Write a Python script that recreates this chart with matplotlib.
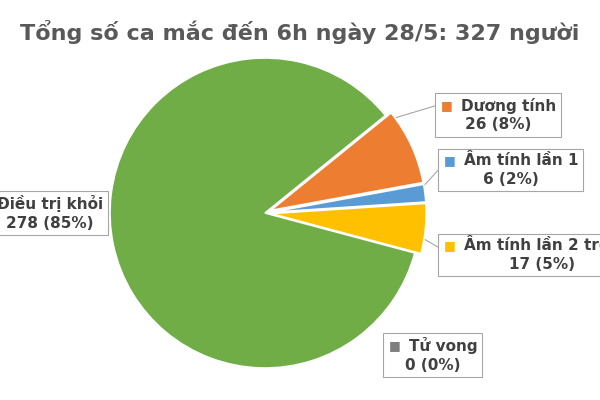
import matplotlib.pyplot as plt

labels = ["Dương tính", "Âm tính lần 1", "Âm tính lần 2 trở lên", "Tử vong", "Điều trị khỏi"]
values = [26, 6, 17, 0, 278]
pcts = ["8%", "2%", "5%", "0%", "85%"]
colors = ["#ED7D31", "#5B9BD5", "#FFC000", "#7F7F7F", "#70AD47"]

fig = plt.figure(figsize=(6, 4), dpi=100)
ax = fig.add_axes([0, 0, 1, 1])
ax.set_xlim(0, 600); ax.set_ylim(400, 0); ax.axis('off')
R = 155
pax = fig.add_axes([(265-R)/600, 1-(213+R)/400, 2*R/600, 2*R/400])
explode = [0.04, 0.04, 0.04, 0, 0]
pax.pie(values, colors=colors, startangle=39, counterclock=False, explode=explode,
        wedgeprops=dict(edgecolor='white', linewidth=1.2))
pax.set_xlim(-1, 1); pax.set_ylim(-1, 1)
pax.set_aspect('auto')

fig.text(0.5, 1-32/400, "Tổng số ca mắc đến 6h ngày 28/5: 327 người", ha='center', va='center',
         fontsize=16, fontweight='bold', color='#595959')

box = dict(boxstyle='square,pad=0.3', fc='white', ec='#A6A6A6', lw=0.8)
# (index, box-left x, center y, leader start, leader end)
ann = [
    (0, 440, 115, (378, 123), (438, 105)),
    (1, 443, 170, (418, 192), (443, 165)),
    (2, 443, 255, (412, 232), (443, 250)),
    (3, 388, 355, None, None),
]
for i, x, y, p0, p1 in ann:
    ax.text(x, y, "    " + labels[i] + "\n" + f"{values[i]} ({pcts[i]})", ha='left', va='center', fontsize=11,
            fontweight='bold', color='#404040', bbox=box, linespacing=1.3, multialignment='center')
    ax.text(x + 7, y - 9, "■", ha='center', va='center', fontsize=9, color=colors[i])
    if p0 is not None:
        ax.plot([p0[0], p1[0]], [p0[1], p1[1]], color='#A6A6A6', lw=0.8)
ax.text(50, 213, f"{labels[4]}\n{values[4]} ({pcts[4]})", ha='center', va='center', fontsize=11,
        fontweight='bold', color='#404040', bbox=box, linespacing=1.3)
ax.plot([105, 125], [213, 213], color='#A6A6A6', lw=0.8)
fig.savefig("out.png", dpi=100)
